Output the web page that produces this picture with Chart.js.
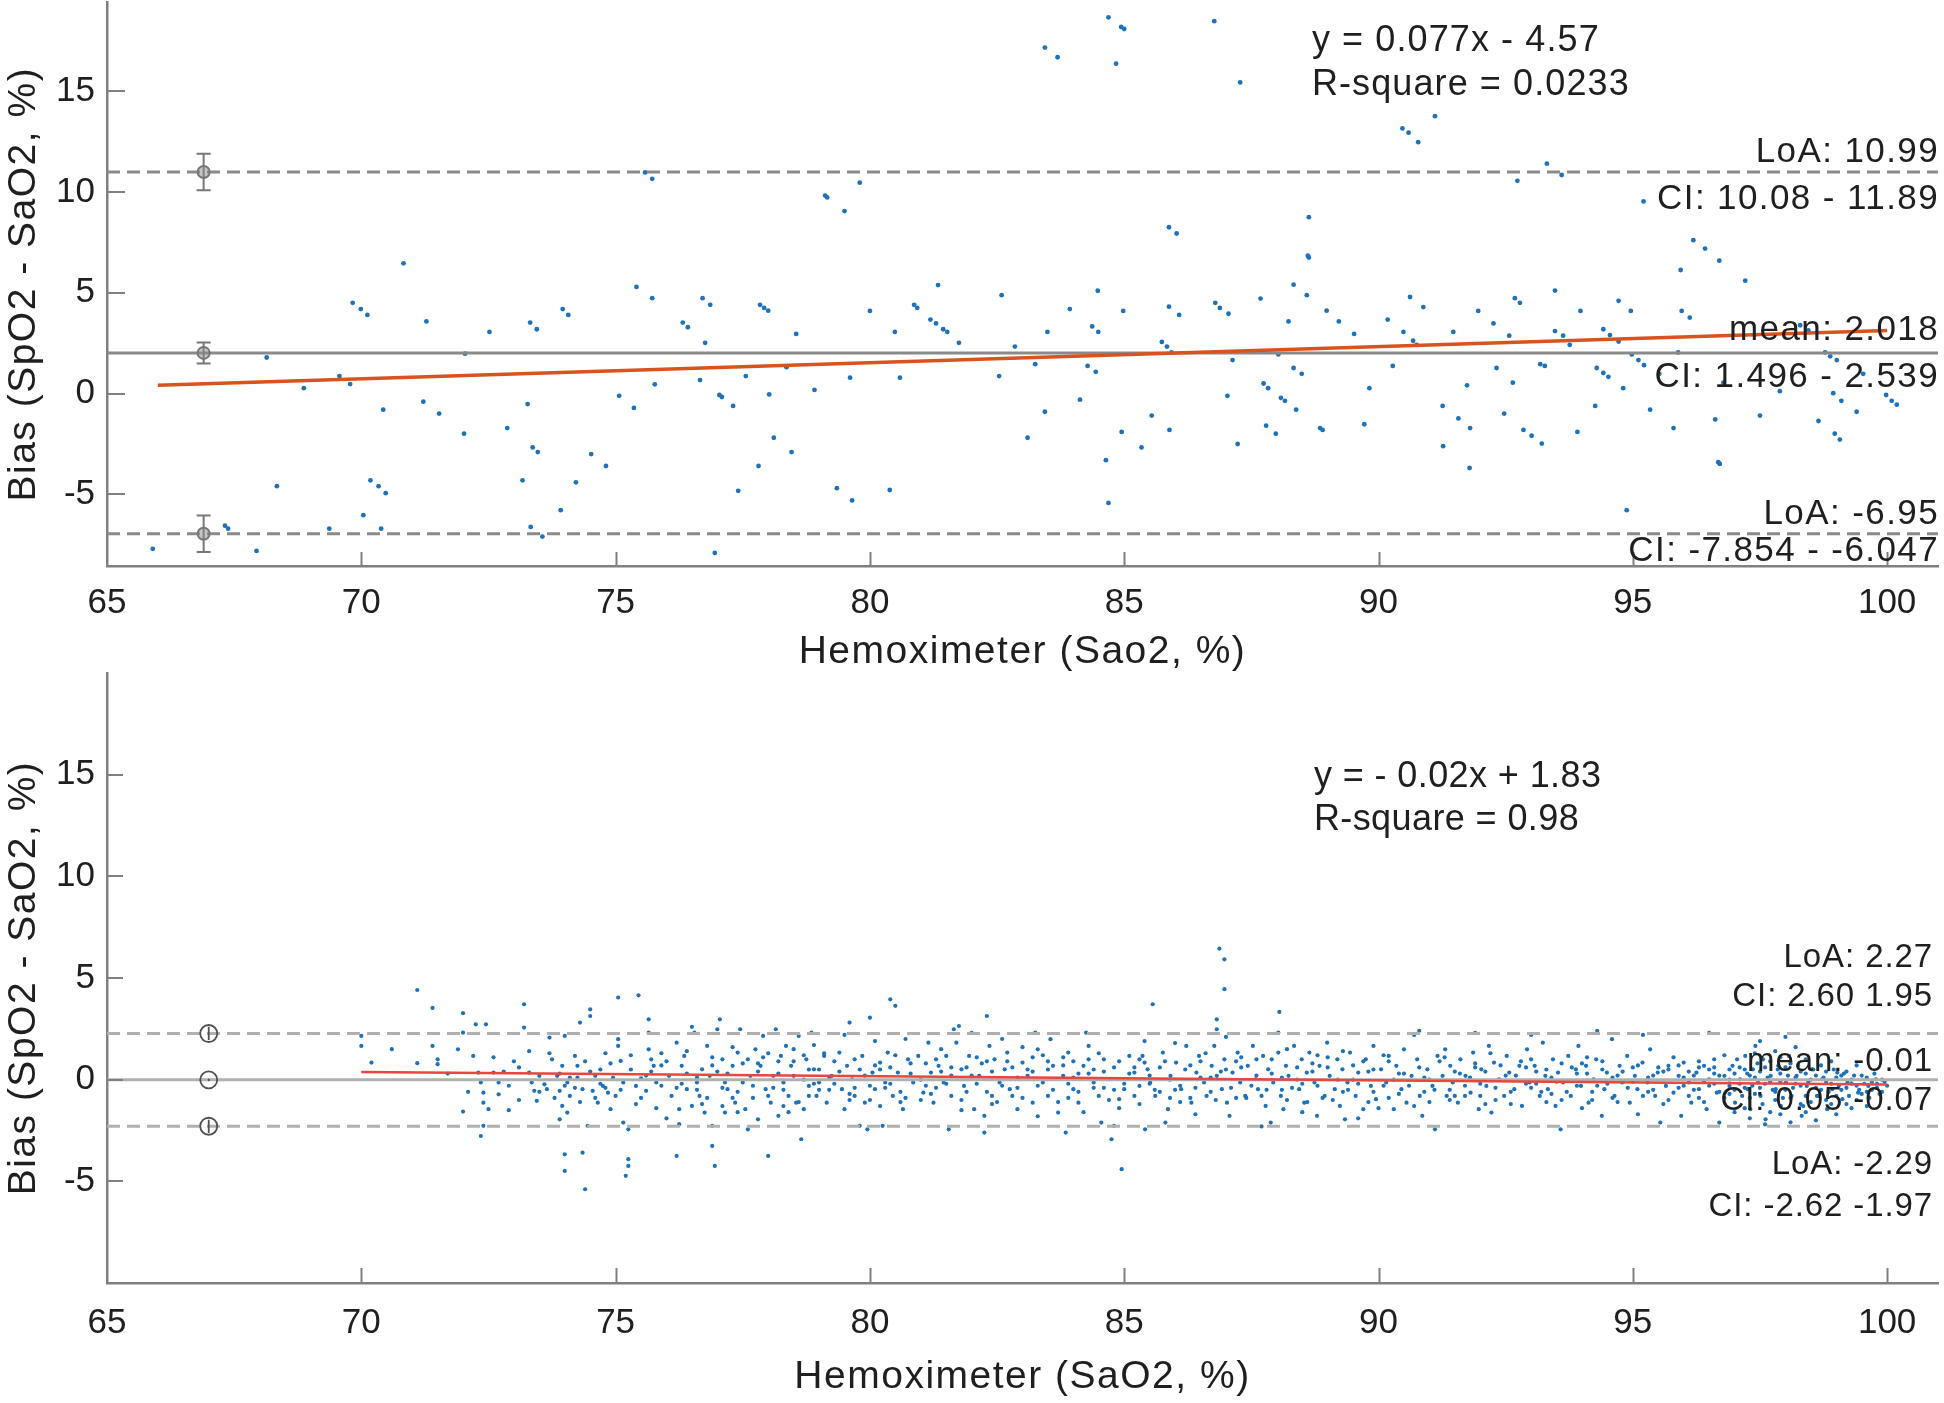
<!DOCTYPE html>
<html><head><meta charset="utf-8">
<script src="https://cdn.jsdelivr.net/npm/chart.js@4.4.1/dist/chart.umd.min.js"></script>
<style>
html,body{margin:0;padding:0;background:#fff;}
#wrap{position:relative;width:1944px;height:1403px;overflow:hidden;background:#fff;}
.box{position:absolute;left:0;width:1944px;}
#b1{top:0;height:680px;}
#b2{top:670px;height:733px;}
canvas{display:block;}
</style></head><body>
<div id="wrap"><div class="box" id="b1"><canvas id="c1"></canvas></div><div class="box" id="b2"><canvas id="c2"></canvas></div></div>
<script>
// ---------- axis ranges & tick labels ----------
const xMin = 65, xMax = 101;
const xTicks = [65, 70, 75, 80, 85, 90, 95, 100];
const yTicks = [-5, 0, 5, 10, 15];
const topYMin = -8.55, topYMax = 19.4;
const botYMin = -10, botYMax = 20;

// ---------- top panel statistics ----------
const topMean = 2.018, topLoaHigh = 10.99, topLoaLow = -6.95;
const topMarkerX = 66.9;
const topMarkerVals = [10.99, 2.018, -6.95];
const topCILow = [10.08, 1.496, -7.854];
const topCIHigh = [11.89, 2.539, -6.047];
const topFitX = [66, 100];
const topFitY = [0.41, 3.13];

// ---------- bottom panel statistics ----------
const botMean = -0.01, botLoaHigh = 2.27, botLoaLow = -2.29;
const botMarkerX = 67.0;
const botMarkerVals = [2.27, -0.01, -2.29];
const botCILow = [1.95, -0.07, -2.62];
const botCIHigh = [2.60, 0.05, -1.97];
const botFitX = [70, 100];
const botFitY = [0.38, -0.24];

// ---------- top panel points [SaO2, bias] ----------
const topPoints = [
[65.90,-7.70],[67.32,-6.55],[67.38,-6.70],[67.94,-7.80],[68.14,1.79],[68.34,-4.59],[68.87,0.27],[69.37,-6.70],[69.57,0.87],[69.78,0.47],
[69.83,4.50],[69.99,4.19],[70.12,3.90],[70.04,-6.03],[70.18,-4.30],[70.34,-4.59],[70.48,-4.94],[70.39,-6.70],[70.43,-0.80],[70.83,6.46],
[71.22,-0.40],[71.28,3.58],[71.53,-0.99],[72.04,1.98],[72.02,-1.99],[72.52,3.06],[72.87,-1.71],[73.17,-4.30],[73.27,-0.52],[73.32,3.52],
[73.45,3.19],[73.37,-2.67],[73.47,-2.90],[73.33,-6.61],[73.56,-7.09],[73.92,-5.78],[73.96,4.19],[74.07,3.90],
[74.22,-4.40],[74.52,-3.00],[74.81,-3.59],[75.07,-0.11],[75.36,-0.71],[75.41,5.29],[75.58,10.97],[75.72,10.65],[75.72,4.73],[75.77,0.46],
[76.32,3.52],[76.42,3.29],[76.66,0.67],[76.71,4.73],[76.86,4.40],[76.76,2.52],[76.95,-7.90],[77.04,-0.07],[77.09,-0.17],[77.31,-0.61],
[77.41,-4.82],[77.56,0.87],[77.81,-3.59],[77.84,4.40],[77.92,4.25],[78.00,4.11],[78.02,-0.04],[78.11,-2.19],[78.36,1.31],[78.46,-2.90],
[78.55,2.96],[78.91,0.18],[79.12,9.82],[79.16,9.73],[79.35,-4.69],[79.50,9.05],[79.61,0.79],[79.65,-5.30],[79.80,10.46],[80.00,4.10],
[80.39,-4.78],[80.49,3.06],[80.59,0.79],[80.87,4.40],[80.93,4.25],[81.19,3.67],[81.30,3.48],[81.34,5.38],[81.44,3.19],[81.52,3.06],
[81.75,2.52],[82.54,0.87],[82.59,4.88],[82.85,2.33],
[83.10,-2.19],[83.25,1.46],[83.44,17.16],[83.69,16.68],[83.44,-0.90],[83.49,3.06],[83.93,4.19],[84.13,-0.30],[84.28,1.37],[84.44,1.08],
[84.37,3.33],[84.49,3.06],[84.48,5.10],[84.64,-3.30],[84.69,18.66],[84.69,-5.42],[84.84,16.36],[84.94,18.18],[85.00,18.08],[84.95,-1.90],
[84.98,4.10],[85.34,-2.67],[85.54,-1.09],[85.74,2.56],[85.84,2.33],[85.93,2.04],[85.88,8.25],[86.03,7.94],[85.88,4.31],[86.08,3.90],
[85.89,-1.80],[86.77,18.47],[86.79,4.50],[86.88,4.25],[87.05,3.96],[87.03,-0.11],[87.13,1.66],[87.23,-2.50],[87.28,15.43],[87.68,4.71],
[87.74,0.50],[87.83,0.27],[87.79,-1.59],[87.98,-1.99],[88.03,1.94],[88.08,-0.21],[88.16,-0.36],[88.23,3.58],[88.33,5.40],[88.33,1.27],
[88.49,0.98],[88.38,-0.80],[88.59,4.88],[88.61,6.84],[88.63,6.75],[88.63,8.75],[88.85,-1.71],[88.90,-1.80],[88.98,4.11],[89.22,3.58],
[89.52,2.96],[89.72,-1.52],[89.82,0.27],[90.18,3.67],[90.28,1.37],[90.49,3.06],[90.47,13.15],[90.59,12.94],[90.62,4.79],[90.68,2.62],
[90.75,2.42],[90.78,12.47],[90.88,4.29],[91.11,13.76],[91.26,-0.61],[91.27,-2.61],[91.47,3.06],[91.57,-1.23],[91.74,0.41],[91.80,-1.71],
[91.79,-3.69],
[91.96,4.10],[92.26,3.48],[92.32,1.27],[92.47,-0.99],[92.57,2.87],[92.64,0.54],[92.68,4.73],[92.78,4.50],[92.73,10.55],[92.85,-1.80],
[93.01,-2.09],[93.21,-2.48],[93.18,1.46],[93.27,1.37],[93.31,11.40],[93.47,5.11],[93.47,3.10],[93.60,10.84],[93.63,2.87],[93.76,2.42],
[93.91,-1.90],[93.97,4.10],[94.26,-0.61],[94.29,1.27],[94.42,1.02],[94.52,0.83],[94.42,3.19],[94.55,2.90],[94.72,4.60],[94.81,0.27],
[94.72,2.58],[94.88,-5.78],[94.96,4.10],[94.98,1.94],[95.11,1.66],[95.22,1.41],[95.21,9.53],[95.34,-0.80],[95.52,0.98],[95.80,-1.71],
[95.89,2.04],[95.94,6.13],[95.96,4.10],[96.12,3.77],[96.19,7.61],[96.42,7.19],[96.62,-1.28],[96.68,-3.40],[96.71,-3.49],[96.70,6.59],
[96.78,0.54],[97.21,5.60],[97.50,-1.09],[97.89,0.12],[98.29,3.39],[98.45,3.13],[98.65,-1.36],[98.78,2.04],[98.88,1.85],[99.01,1.66],
[98.94,0.02],[98.97,-1.99],[99.07,-2.28],[99.10,-0.36],[99.40,-0.90],[99.98,-0.07],[100.09,-0.36],[100.19,-0.55],[99.53,0.98]
];

// ---------- bottom panel points [SaO2, bias] ----------
const botPointsA = [
[70.0,2.15],[70.0,1.66],[70.2,0.84],[71.1,4.41],[71.1,0.81],[71.4,3.53],[71.4,1.66],[71.5,1.0],[71.5,0.76],[72.0,3.27],[72.0,2.31],[71.9,1.49],
[72.2,1.17],[72.25,2.72],[72.45,2.72],[72.3,0.35],[72.35,-0.14],[72.4,-0.64],[72.4,-1.13],[72.0,-1.57],[72.5,-1.45],[72.6,0.35],[72.7,-0.14],
[72.7,-0.72],[72.4,-2.27],[72.35,-2.77],[73.2,3.71],[73.2,2.56],[73.3,0.35],[73.35,-0.14],[73.4,-0.55],[73.45,-1.04],[73.5,0.19],[73.6,-0.23],
[73.65,-0.47],[73.7,2.07],[73.75,1.0],[73.85,0.19],[73.9,-0.55],[73.95,0.68],[74.0,2.15],[74.05,-0.14],[74.1,-0.8],[73.95,-1.29],[74.05,-1.62],
[73.9,-1.95],[74.2,1.17],[74.25,0.1],[74.25,0.68],[74.3,2.81],[74.35,-0.47],[74.45,-2.27],[74.5,3.46],[74.5,3.13],[74.55,-0.55],[74.6,0.19],
[74.65,-1.13],[74.75,-0.31],[74.85,-0.64],[74.9,-1.45],[74.95,0.1],[75.05,4.04],[75.05,1.99],[75.05,1.66],[75.1,0.92],[75.15,-0.14],[75.15,-2.11],
[75.25,-2.44],[75.4,-0.31],[75.45,4.15],[75.5,0.06],[75.6,-0.55],[75.65,2.97],[75.65,1.49],[75.7,1.0],[75.75,0.68],[74.0,-3.67],[74.35,-3.59],
[74.0,-4.49],[75.25,-3.91],[75.25,-4.24],[75.2,-4.73],[74.4,-5.39],[75.65,2.31],[75.8,-0.14],[76.05,0.19],[76.1,-0.8],[76.2,1.82],[76.25,-1.45],
[76.3,0.68],[76.35,1.17],[76.4,-0.47],[76.5,-1.29],[76.55,2.31],[76.6,-0.14],[76.65,-0.8],[76.7,0.51],[76.75,-1.62],[76.8,1.66],[76.85,0.19],
[76.9,-3.26],[76.95,-4.24],[77.0,2.48],[77.05,2.97],[77.1,1.0],[77.15,-0.14],[77.2,-0.47],[77.3,0.68],[77.35,-1.13],[77.4,1.33],[77.45,2.48],
[77.5,-0.14],[77.55,-1.45],[77.6,-2.44],[77.65,0.19],[76.2,-3.75],[76.25,-2.19],[76.9,-2.27],[77.15,-1.62],[77.75,1.49],[77.8,-1.95],[77.85,0.68],
[77.9,2.15],[77.95,-0.47],[78.0,-3.75],[78.05,-1.13],[78.1,0.19],[78.15,2.48],[78.2,-1.78],[78.25,1.17],[78.3,-0.14],[78.35,1.66],[78.4,-0.8],
[78.45,0.68],[78.5,0.19],[78.55,-1.13],[78.6,2.15],[78.65,-2.93],[78.7,-1.45],[78.75,1.0],[78.8,-0.31],[78.85,2.31],[78.9,0.51],[78.95,-0.8],
[79.0,-0.14],[79.1,1.17],[79.15,-1.13],[79.25,0.19],[79.4,1.33],[79.45,-0.47],[79.5,-1.45],[79.55,0.68],[79.6,2.81],[79.65,0.02],[79.7,-0.8],
[79.8,-2.27],[79.85,1.17],[79.9,-1.13],[79.95,-2.44],[80.0,3.05],[80.05,0.35],[80.1,-0.47],[80.2,0.84],[80.25,-2.27],[80.3,-0.14],[80.35,1.33],
[80.4,3.95],[80.45,-0.8],[80.5,3.63],[80.55,0.35],[80.65,-1.45],[80.75,1.0],[80.85,-0.14],[80.95,1.17],[81.05,-0.64],[81.15,1.82],[81.2,0.35],
[81.25,-1.13],[81.35,0.68],[81.45,-0.14],[81.5,1.17],[81.55,-2.44],[81.6,-0.8],[81.65,2.48],[81.7,1.82],[81.75,2.64],[81.8,0.51],[81.85,-0.31],
[81.95,1.17],[82.05,-1.45],[82.15,0.19],[82.25,-1.78],[82.25,-2.6],[82.3,3.13],[82.35,1.66],[82.4,-0.8],[82.45,1.0],[82.55,-0.14],[82.65,0.51],
[82.7,1.33],[82.75,-0.47],[82.9,-1.45],[83.0,0.84],[83.1,0.19],[83.2,-1.13],[83.25,2.31],[83.3,1.49],[83.4,-0.14],[83.5,-0.8],[83.55,1.99],
[83.6,0.68],[83.7,-1.62],[83.8,0.19],[83.85,-2.6],[83.9,1.33],[84.0,-0.47],[84.1,-1.13],[84.2,0.68],[84.25,2.31],[84.3,1.66],[84.4,-0.14],
[84.5,-0.8],[84.55,-2.11],[84.6,1.0],[84.7,0.02],[84.75,-2.93],[84.8,-2.27],[84.9,-0.96],[84.95,-4.4],[85.0,-0.47],[85.1,1.17],[85.2,0.35],
[85.3,-0.31],[85.4,0.84]
];
const botPointsB = [
[86.87,6.44],[86.97,5.92],[86.97,4.45],[85.56,3.71],[88.05,3.33],[86.82,2.97],[86.82,2.48],[90.8,2.4],[88.03,2.31],
[85.36,1.17],[85.46,0.51],[85.51,-0.14],[85.61,-0.8],[85.76,1.33],[85.86,-1.45],[85.91,0.19],[86.02,0.84],[86.12,-0.47],[86.22,1.66],
[86.32,-1.13],[86.42,0.35],[86.47,1.17],[86.57,-0.14],[86.62,-0.8],[86.72,0.68],[86.77,1.66],[86.82,0.19],[86.92,-0.47],[86.97,1.0],
[87.02,-1.13],[87.07,-1.78],[87.13,0.35],[87.23,1.33],[87.28,-0.14],[85.41,-2.44],[85.81,-2.11],[87.38,-0.8],[87.43,0.68],[87.53,1.66],
[87.58,0.02],[87.63,-0.47],[87.73,1.17],[87.78,-1.29],[87.83,0.51],[87.88,-2.11],[87.93,-0.14],[88.03,1.33],[88.08,-0.8],[88.13,-1.45],
[88.18,0.68],[88.23,0.19],[88.34,1.66],[88.44,-0.47],[88.49,1.0],[88.54,-1.13],[88.59,0.35],[88.64,1.33],[88.74,-0.14],[88.79,-1.78],
[88.84,0.68],[88.94,-0.8],[88.99,1.82],[89.04,0.19],[89.14,-0.47],[89.19,1.0],[89.24,-1.29],[89.29,0.51],[89.34,-1.95],[89.39,-0.14],
[89.44,1.33],[89.55,-0.8],[89.6,0.35],[89.7,-1.45],[89.75,1.0],[89.85,-0.31],[89.9,1.66],[89.95,-0.96],[90.05,0.51],[90.15,-0.14],
[90.2,1.17],[90.3,-1.45],[90.35,0.68],[90.45,-0.47],[90.5,1.49],[90.55,-1.13],[90.65,0.19],[90.76,1.0],[90.81,-0.8],[90.86,-1.78],
[90.96,0.51],[91.06,-0.31],[91.11,-2.44],[91.16,1.17],[91.26,0.19],[91.31,1.49],[91.34,-0.8],[91.41,0.68],[91.46,-0.14],[91.56,-1.13],
[91.61,1.0],[91.71,0.19],[91.81,-0.64],[91.86,1.33],[91.97,-1.45],[92.02,0.51],[92.12,-0.31],[92.17,1.66],[92.22,-1.62],[92.27,0.84],
[92.37,0.02],[92.47,-0.8],[92.52,1.17],[92.57,0.35],[92.67,-0.47],[92.77,0.68],[92.82,-1.29],[92.92,1.49],[92.97,-0.14],[93.07,0.68],
[93.17,-0.8],[93.23,1.82],[93.28,0.19],[93.33,-0.47],[93.43,1.0],[93.48,-1.29],[93.53,0.35],[93.58,-2.44],[93.63,-0.14],[93.73,1.17],
[93.78,-0.8],[93.88,0.51],[93.93,1.66],[93.98,-0.31],[94.08,0.68],[94.13,-1.13],[94.23,0.02],[94.28,1.0],[94.39,-1.78],[94.44,-0.47],
[94.49,0.35],[94.59,1.99],[94.64,-0.8],[94.74,0.68],[94.79,-0.14],[94.89,1.17],[94.94,-1.13],[95.04,0.19],[95.09,-0.47],[95.19,0.84],
[95.29,-0.14],[95.34,1.49],[95.44,-0.8],[95.49,0.35],[95.54,-2.11],[95.65,-0.31],[95.7,0.68],[95.8,-0.64],[95.9,0.19],[95.95,-1.78],
[96.0,0.84],[96.1,-0.14],[96.15,-1.13],[96.25,0.35],[96.3,-0.47],[96.4,0.68],[96.45,-1.45],[96.5,0.02],[96.6,1.0],[96.65,-0.64],
[96.7,-2.11],[96.8,0.19],[96.9,-0.31],[96.96,0.68],[97.01,-1.13],[97.11,0.02],[97.21,1.17],[97.26,-0.47],[97.31,-1.45],[97.36,0.51],
[97.41,1.66],[97.46,-0.14],[97.51,-0.8],[97.56,1.0],[97.61,-1.95],[97.71,0.19],[97.81,-0.47],[97.86,0.68],[97.91,-1.29],[98.01,-0.14],
[98.07,1.17],[98.12,-0.8],[98.22,0.19],[98.32,-1.78],[98.42,-0.31],[98.52,0.51],[98.62,-0.8],[98.72,0.02],[98.82,-1.45],[98.92,-0.47],
[99.02,0.35],[99.12,-0.96],[99.22,-0.14],[99.43,-0.64],[99.63,-0.31],[99.78,0.02]
];
const botPointsC = [
[72.8,0.4],[72.9,-0.3],[73.0,0.9],[73.1,-1.0],[73.8,-0.9],[73.9,0.3],[74.1,0.1],[74.2,-0.4],[74.4,0.9],[74.6,-0.9],[74.7,0.5],[74.8,1.3],
[75.0,-0.8],[75.3,0.5],[75.4,-1.2],[75.6,0.2],[75.9,-0.3],[75.9,1.3],[76.0,-1.9],[76.4,0.3],[76.5,2.6],[76.6,-0.5],[76.8,-0.9],[77.0,0.4],
[77.1,-1.3],[77.3,1.6],[77.4,-0.6],[77.6,1.0],[77.7,-0.9],[77.8,0.4],[78.0,1.3],[78.1,-0.4],[78.2,0.9],[78.4,-1.6],[78.5,1.5],[78.7,0.0],
[78.8,-0.8],[78.9,1.7],[79.0,0.5],[79.2,-0.5],[79.3,0.9],[79.5,2.2],[79.6,-1.0],[79.8,0.5],[80.0,-0.3],[80.1,1.9],[80.2,-1.3],[80.4,0.6],
[80.6,-0.6],[80.7,2.0],[80.8,0.3],[81.0,-1.0],[81.1,0.8],[81.3,-0.4],[81.4,1.5],[81.6,0.2],[81.8,-1.0],[81.9,0.6],[82.0,2.3],[82.1,-0.2],
[82.3,0.9],[82.5,-1.1],[82.6,2.0],[82.8,0.6],[82.9,-0.4],[83.0,1.6],[83.2,0.4],[83.3,-1.8],[83.5,0.9],[83.6,-0.5],[83.8,1.1],[83.9,-0.2],
[84.0,0.9],[84.2,-1.6],[84.3,0.3],[84.5,1.3],[84.6,-0.4],[84.8,0.6],[84.9,-1.4],[85.1,0.3],[85.2,-0.8],[85.4,1.9],[85.5,-0.2],[85.7,0.6],
[85.9,-0.9],[86.0,1.8],[86.1,-0.3],[86.3,0.7],[86.4,-1.7],[86.5,0.1],[86.7,-0.6],[86.9,0.4],[87.0,2.1],[87.2,-0.9],[87.3,0.6],[87.5,-0.3],
[87.6,1.0],[87.7,-2.3],[87.9,0.3],[88.1,-0.5],[88.2,1.5],[88.4,0.0],[88.5,-1.6],[88.7,0.8],[88.8,-0.3],[89.0,0.6],[89.1,-1.0],[89.3,1.4],
[89.5,0.0],[89.6,-1.9],[89.8,0.4],[89.9,-0.6],[90.1,1.2],[90.2,-0.9],[90.4,0.3],[90.6,-0.3],[90.7,2.2],[90.9,0.1],[91.0,-1.1],[91.2,0.9],
[91.4,-0.5],[91.5,0.4],[91.7,-0.8],[91.9,0.6],[92.0,-0.2],[92.2,1.3],[92.3,-1.0],[92.5,0.2],[92.6,-0.6],[92.8,0.9],[93.0,-0.4],[93.1,0.4],
[93.3,-1.1],[93.4,0.1],[93.6,0.8],[93.7,-0.6],[93.9,0.3],[94.0,-1.4],[94.1,1.1],[94.3,-0.3],[94.4,0.5],[94.6,-0.9],[94.7,0.2],[94.9,-0.4],
[95.0,0.6],[95.1,-1.7],[95.3,0.1],[95.4,-0.5],[95.6,0.4],[95.7,-1.0],[95.9,0.7],[96.0,-0.3],[96.2,0.2],[96.3,-0.9],[96.5,0.5],[96.6,-0.2],
[96.8,1.2],[96.9,-0.7],[97.0,0.3],[97.1,-0.2],[97.2,0.5],[97.3,-0.9],[97.4,0.1],[97.5,-0.4],[97.6,0.6],[97.7,-0.1],[97.8,-1.0],[97.9,0.3],
[98.0,-0.5],[98.1,0.8],[98.2,-0.2],[98.3,0.4],[98.4,-0.8],[98.5,0.0],[98.6,-0.4],[98.7,0.7],[98.8,-0.1],[98.9,-1.2],[99.0,0.1],[99.1,-0.5],
[99.2,0.4],[99.3,-0.2],[99.4,-1.0],[99.5,0.2],[99.6,-0.6],[99.7,-0.1],[99.8,-0.4],[99.9,0.0]
];
const botPointsD = [
[70.6,1.5],[71.7,0.3],[72.1,-0.6],[72.6,1.1],[72.9,-1.5],[73.1,0.6],[73.5,-0.6],[73.7,1.3],[74.0,-0.3],[74.3,-1.1],[74.5,0.4],[74.7,-0.2],
[74.9,0.8],[75.1,-0.5],[75.3,1.2],[75.5,-0.9],[75.7,0.4],[75.8,-1.4],[76.0,0.9],[76.2,-0.4],[76.4,1.4],[76.6,0.1],[76.7,-1.2],[76.9,0.7],
[77.1,-0.4],[77.2,0.3],[77.4,-1.6],[77.5,0.8],[77.7,-0.3],[77.9,1.1],[78.0,-0.8],[78.2,0.3],[78.3,-0.5],[78.5,0.9],[78.6,-1.1],[78.8,0.5],
[79.0,-0.5],[79.1,1.3],[79.3,-0.2],[79.4,0.4],[79.6,-0.7],[79.7,1.0],[79.9,0.2],[80.0,-1.0],[80.2,0.5],[80.3,-0.4],[80.5,1.2],[80.7,-0.9],
[80.8,0.8],[81.0,0.0],[81.2,-0.7],[81.3,1.0],[81.5,-0.2],[81.6,0.6],[81.8,-1.5],[82.0,0.2],[82.1,1.1],[82.3,-0.6],[82.4,0.4],[82.6,-0.3],
[82.7,0.9],[82.9,0.1],[83.0,-0.9],[83.2,1.1],[83.3,-0.3],[83.5,0.5],[83.7,-1.1],[83.8,0.7],[84.0,0.1],[84.1,-0.6],[84.3,1.0],[84.4,-0.4],
[84.6,0.4],[84.7,-1.0],[84.9,0.9],[85.0,-0.2],[85.2,0.6],[85.3,-1.2],[85.5,0.2],[85.6,-0.5],[85.8,0.9],[85.9,0.0],[86.1,-1.1],[86.2,0.5],
[86.4,-0.4],[86.5,0.9],[86.7,0.1],[86.8,-1.0],[87.0,0.5],[87.1,-0.4],[87.3,1.1],[87.4,-0.9],[87.6,0.2],[87.8,-0.5],[87.9,1.0],[88.1,0.1],
[88.2,-1.0],[88.4,0.6],[88.5,-0.2],[88.7,0.4],[88.9,-0.9],[89.0,1.1],[89.2,0.0],[89.3,-0.6],[89.5,0.7],[89.6,-0.2],[89.8,-1.1],[89.9,0.5],
[90.1,-0.3],[90.2,0.9],[90.4,-0.7],[90.5,0.3],[90.7,-1.3],[90.8,0.6],[91.0,0.0],[91.1,-0.5],[91.3,1.1],[91.4,-1.0],[91.6,0.3],[91.7,-0.3],
[91.9,0.8],[92.0,-0.8],[92.1,0.4],[92.3,-0.4],[92.4,0.7],[92.6,-1.2],[92.7,0.2],[92.9,-0.2],[93.0,1.0],[93.2,-0.6],[93.3,0.5],[93.5,-0.1],
[93.6,-1.0],[93.8,0.6],[93.9,-0.3],[94.1,0.3],[94.2,-0.6],[94.4,0.9],[94.5,-0.2],[94.7,-1.1],[94.8,0.4],[95.0,-0.1],[95.1,0.7],[95.3,-0.6],
[95.4,0.2],[95.6,-1.2],[95.7,0.5],[95.9,-0.4],[96.0,0.1],[96.1,-0.8],[96.3,0.6],[96.4,-0.1],[96.6,0.3],[96.7,-0.6],[96.9,0.0],[97.0,-1.6],
[97.1,0.6],[97.2,-0.4],[97.3,0.2],[97.4,-0.7],[97.5,0.4],[97.6,-0.2],[97.7,0.9],[97.8,-0.6],[97.9,-0.1],[98.0,0.6],[98.1,-0.9],[98.2,0.1],
[98.3,-0.3],[98.4,0.3],[98.5,-1.1],[98.6,0.2],[98.7,-0.5],[98.8,0.4],[98.9,-0.2],[99.0,-0.8],[99.1,0.2],[99.2,-0.4],[99.3,0.0],[99.4,-0.3],
[99.5,-0.7],[99.6,0.1],[99.7,-0.5],[99.8,-0.2],[99.9,-0.6],[100.0,-0.3],
[97.3,-1.9],[97.6,-2.2],[97.9,-1.7],[98.1,-2.1],[98.4,-1.6],[98.6,-2.0],[99.0,-1.7],[99.3,-1.4],[97.8,1.4],[98.2,1.6],[97.5,1.9],[98.0,2.1],
[96.5,2.3],[95.2,2.2],[94.3,2.4],[93.0,2.2],[91.9,2.3]
];
const botPointsE = [
[96.1,0.4],[96.2,-0.5],[96.3,0.9],[96.4,-1.1],[96.5,-0.3],[96.6,0.6],[96.7,0.2],[96.8,-0.9],[96.9,0.5],[97.0,-0.5],[97.05,1.0],[97.15,-0.8],
[97.25,0.3],[97.35,-0.3],[97.45,0.8],[97.55,-1.2],[97.65,0.1],[97.75,-0.5],[97.85,0.5],[97.95,-0.9],[98.05,0.2],[98.15,-0.4],[98.25,0.7],
[98.35,-1.3],[98.45,-0.1],[98.55,0.5],[98.65,-0.8],[98.75,0.1],[98.85,-0.6],[98.95,0.5],[99.05,-0.3],[99.15,0.3],[99.25,-0.8],[99.35,0.2],
[99.45,-0.5],[99.55,-0.2],[99.65,-0.9],[99.75,0.3],[99.85,-0.7],[99.95,-0.1],[97.2,-1.4],[97.7,-1.6],[98.3,-1.2],[98.8,-1.0],[99.2,-1.2],
[99.6,-1.3],[97.4,1.3],[97.9,1.1],[98.4,1.0],[98.9,0.9],[99.4,0.7],
[76.3,-0.2],[76.9,1.1],[77.3,-0.9],[77.8,0.8],[78.3,-1.3],[78.7,1.2],[79.2,0.1],[79.7,-0.4],[80.1,0.7],[80.6,-1.1],[81.1,-0.3],[81.4,0.4],
[81.9,-0.6],[82.2,0.8],[82.8,-0.8],[83.1,0.5],[83.4,1.2],[83.9,-0.9],[84.4,0.5],[84.8,-0.5],[85.3,1.0],[85.7,-0.6],[86.3,-0.9],[86.6,1.3],
[87.2,0.9],[87.7,-0.8],[88.3,-0.4],[88.8,1.2],[89.4,-0.5],[89.7,0.9],[90.3,0.0],[90.9,-0.6],[91.5,-0.8],[92.1,-1.2],[92.9,0.6],[93.4,-0.7],
[94.0,0.8],[94.6,0.1],[95.2,-0.8],[95.8,1.1],[95.5,0.6],[94.2,-1.0],[93.1,-0.2],[91.8,0.1],[90.0,-1.4],[88.6,-1.1],[86.0,-0.5],[84.1,0.3],
[82.4,-1.2],[80.4,-0.2],[78.9,-0.2],[75.9,0.7],[74.8,-0.4],[73.3,1.4]
];

// ---------- rendering ----------
const FONT = "'Liberation Sans', Arial, Helvetica, sans-serif";
const TEXT = '#1f1f1f';
const AXIS = '#808080';
const BLUE = '#1f72b8';

function makeDecor(cfg) {
  return {
    id: 'decor',
    beforeDraw(chart) { chart.ctx.letterSpacing = cfg.titleLS + 'px'; },
    beforeDatasetsDraw(chart) { chart.ctx.letterSpacing = '0px'; },
    afterDatasetsDraw(chart) {
      const ctx = chart.ctx, xs = chart.scales.x, ys = chart.scales.y;
      ctx.save();
      const px = xs.getPixelForValue(cfg.markerX);
      cfg.markerVals.forEach((v, i) => {
        const py = ys.getPixelForValue(v);
        const lo = ys.getPixelForValue(cfg.ciLow[i]);
        const hi = ys.getPixelForValue(cfg.ciHigh[i]);
        ctx.strokeStyle = cfg.markerStroke;
        ctx.lineWidth = cfg.markerLW;
        ctx.beginPath();
        ctx.moveTo(px, lo); ctx.lineTo(px, hi);
        if (cfg.cap > 0) {
          ctx.moveTo(px - cfg.cap, lo); ctx.lineTo(px + cfg.cap, lo);
          ctx.moveTo(px - cfg.cap, hi); ctx.lineTo(px + cfg.cap, hi);
        }
        ctx.stroke();
        ctx.beginPath();
        ctx.arc(px, py, cfg.markerR, 0, Math.PI * 2);
        if (cfg.markerFill) { ctx.fillStyle = cfg.markerFill; ctx.fill(); }
        ctx.stroke();
      });
      ctx.restore();
    },
    afterDraw(chart) {
      const ctx = chart.ctx, xs = chart.scales.x, ys = chart.scales.y, ca = chart.chartArea;
      ctx.save();
      ctx.letterSpacing = '0px';
      ctx.strokeStyle = AXIS; ctx.lineWidth = 2;
      ctx.beginPath();
      xTicks.forEach(v => {
        if (v === xMin) return;
        const p = Math.round(xs.getPixelForValue(v)) + 0.5;
        ctx.moveTo(p, ca.bottom); ctx.lineTo(p, ca.bottom - cfg.xTickLen);
      });
      yTicks.forEach(v => {
        const p = Math.round(ys.getPixelForValue(v));
        ctx.moveTo(ca.left, p); ctx.lineTo(ca.left + cfg.yTickLen, p);
      });
      ctx.stroke();
      ctx.fillStyle = TEXT;
      ctx.textBaseline = 'middle';
      ctx.textAlign = 'left';
      ctx.font = cfg.eqSize + 'px ' + FONT;
      ctx.letterSpacing = cfg.eqLS + 'px';
      const ex = xs.getPixelForValue(cfg.eqX);
      ctx.fillText(cfg.eqLines[0], ex, ys.getPixelForValue(cfg.eqY[0]));
      ctx.fillText(cfg.eqLines[1], ex, ys.getPixelForValue(cfg.eqY[1]));
      ctx.textAlign = 'right';
      ctx.font = cfg.noteSize + 'px ' + FONT;
      ctx.letterSpacing = cfg.noteLS + 'px';
      cfg.notes.forEach(n => {
        ctx.fillText(n[0], ca.right + cfg.noteDX, ys.getPixelForValue(n[1]) + n[2]);
      });
      ctx.restore();
    }
  };
}

function panel(canvasId, p) {
  const hline = v => [{x: xMin, y: v}, {x: xMax, y: v}];
  const fit = p.fitX.map((x, i) => ({x: x, y: p.fitY[i]}));
  const pts = p.points.map(q => ({x: q[0], y: q[1]}));
  const lineBase = {type: 'line', pointRadius: 0, fill: false, tension: 0, showLine: true};
  return new Chart(document.getElementById(canvasId), {
    type: 'scatter',
    data: {
      datasets: [
        Object.assign({}, lineBase, {data: fit, borderColor: p.fitColor, borderWidth: p.fitWidth, order: 0}),
        Object.assign({}, lineBase, {data: hline(p.mean), borderColor: p.meanColor, borderWidth: p.meanWidth, order: 1}),
        Object.assign({}, lineBase, {data: hline(p.loaHigh), borderColor: p.dashColor, borderWidth: p.dashWidth, borderDash: [13, 7], order: 1}),
        Object.assign({}, lineBase, {data: hline(p.loaLow), borderColor: p.dashColor, borderWidth: p.dashWidth, borderDash: [13, 7], order: 1}),
        {type: 'scatter', data: pts, pointRadius: p.ptR, pointHoverRadius: p.ptR, pointBackgroundColor: BLUE, pointBorderWidth: 0, borderWidth: 0, order: 2}
      ]
    },
    options: {
      responsive: true, maintainAspectRatio: false, animation: false, devicePixelRatio: 1,
      events: [],
      layout: {padding: {left: 0, right: 6, top: p.padTop, bottom: 0}},
      plugins: {legend: {display: false}, tooltip: {enabled: false}},
      scales: {
        x: {
          type: 'linear', min: xMin, max: xMax,
          grid: {display: false, drawTicks: false},
          border: {display: true, color: AXIS, width: 2.5},
          ticks: {font: {family: FONT, size: 35}, color: TEXT, padding: p.xTickPad, z: 1, maxRotation: 0, autoSkip: false},
          title: {display: true, text: p.xTitle, color: TEXT, font: {family: FONT, size: 39}, padding: {top: 0, bottom: p.xTitlePadB}},
          afterBuildTicks: s => { s.ticks = xTicks.map(v => ({value: v})); },
          afterFit: s => { s.height = p.xScaleH; s.paddingLeft = 0; s.paddingRight = 0; }
        },
        y: {
          type: 'linear', min: p.yMin, max: p.yMax,
          grid: {display: false, drawTicks: false},
          border: {display: true, color: AXIS, width: 2.5},
          ticks: {font: {family: FONT, size: 35}, color: TEXT, padding: 12, z: 1, autoSkip: false},
          title: {display: true, text: 'Bias (SpO2 - SaO2, %)', color: TEXT, font: {family: FONT, size: 39}, padding: {top: 1, bottom: 0}},
          afterBuildTicks: s => { s.ticks = yTicks.map(v => ({value: v})); },
          afterFit: s => { s.width = 107; s.paddingTop = 0; s.paddingBottom = 0; }
        }
      }
    },
    plugins: [makeDecor(p.decor)]
  });
}

panel('c1', {
  points: topPoints, mean: topMean, loaHigh: topLoaHigh, loaLow: topLoaLow,
  fitX: topFitX, fitY: topFitY, fitColor: '#d9531e', fitWidth: 3.5,
  meanColor: '#8a8a8a', meanWidth: 3, dashColor: '#8a8a8a', dashWidth: 2.8, ptR: 2.4,
  yMin: topYMin, yMax: topYMax, padTop: 2, xScaleH: 114, xTickPad: 16, xTitlePadB: 4,
  xTitle: 'Hemoximeter (Sao2, %)',
  decor: {
    titleLS: 1.5, markerX: topMarkerX, markerVals: topMarkerVals, ciLow: topCILow, ciHigh: topCIHigh,
    markerStroke: '#777777', markerLW: 2, markerR: 6, markerFill: 'rgba(140,140,140,0.5)', cap: 7,
    xTickLen: 14, yTickLen: 18,
    eqX: 88.69, eqY: [17.46, 15.28], eqLines: ['y = 0.077x - 4.57', 'R-square = 0.0233'], eqSize: 36, eqLS: 1.1,
    noteSize: 35, noteLS: 1.4, noteDX: 1,
    notes: [
      ['LoA: 10.99', topLoaHigh, -20], ['CI: 10.08 - 11.89', topLoaHigh, 27],
      ['mean: 2.018', topMean, -22.6], ['CI: 1.496 - 2.539', topMean, 24],
      ['LoA: -6.95', topLoaLow, -19.4], ['CI: -7.854 - -6.047', topLoaLow, 17.6]
    ]
  }
});

panel('c2', {
  points: botPointsA.concat(botPointsB, botPointsC, botPointsD, botPointsE), mean: botMean, loaHigh: botLoaHigh, loaLow: botLoaLow,
  fitX: botFitX, fitY: botFitY, fitColor: '#e8463f', fitWidth: 2.6,
  meanColor: '#b0b0b0', meanWidth: 3, dashColor: '#b0b0b0', dashWidth: 2.8, ptR: 2.1,
  yMin: botYMin, yMax: botYMax, padTop: 3, xScaleH: 120, xTickPad: 19, xTitlePadB: 2,
  xTitle: 'Hemoximeter (SaO2, %)',
  decor: {
    titleLS: 1.5, markerX: botMarkerX, markerVals: botMarkerVals, ciLow: botCILow, ciHigh: botCIHigh,
    markerStroke: '#505050', markerLW: 1.8, markerR: 8.5, markerFill: null, cap: 0,
    xTickLen: 15, yTickLen: 16,
    eqX: 88.73, eqY: [14.9, 12.75], eqLines: ['y = - 0.02x + 1.83', 'R-square = 0.98'], eqSize: 36, eqLS: 0.4,
    noteSize: 33, noteLS: 0.9, noteDX: -5,
    notes: [
      ['LoA: 2.27', botLoaHigh, -76], ['CI: 2.60 1.95', botLoaHigh, -36.5],
      ['mean: -0.01', botMean, -18], ['CI: 0.05 -0.07', botMean, 21],
      ['LoA: -2.29', botLoaLow, 39], ['CI: -2.62 -1.97', botLoaLow, 80.5]
    ]
  }
});
</script>
</body></html>
